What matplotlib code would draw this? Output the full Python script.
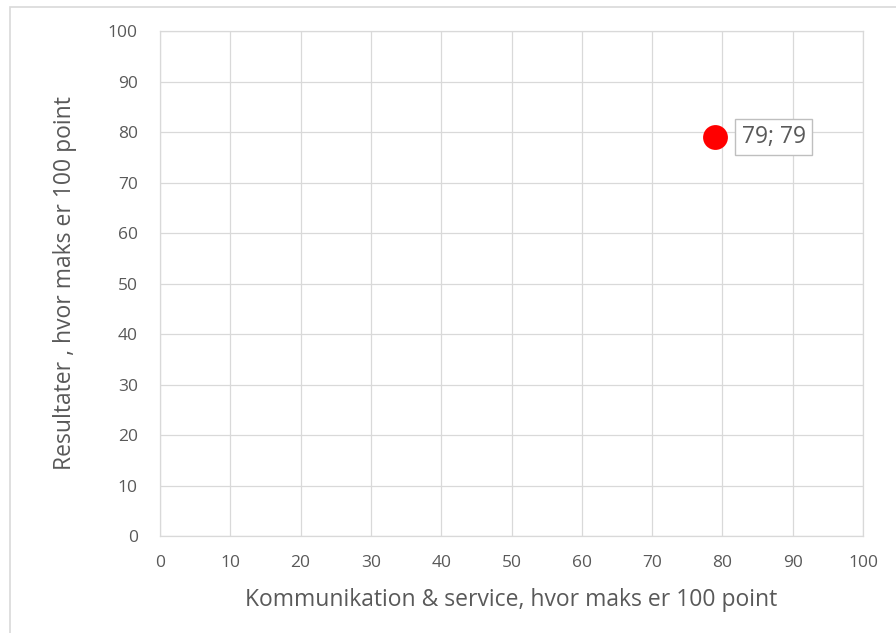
import matplotlib.pyplot as plt
import matplotlib.patches as patches

plt.rcParams["font.family"] = ["Open Sans", "DejaVu Sans"]

# data
x_vals = [79]
y_vals = [79]
point_labels = ["79; 79"]
ticks = list(range(0, 101, 10))

GRID = "#d9d9d9"
TXT = "#595959"

fig = plt.figure(figsize=(8.96, 6.33), dpi=100)
ax = fig.add_axes([160 / 896, 1 - 536 / 633, (863 - 160) / 896, (536 - 31) / 633])

# outer chart border like Excel
fig.patches.append(patches.Rectangle((10 / 896, -0.01), 0.99, 1 - 7 / 633 + 0.01,
                                     transform=fig.transFigure, fill=False,
                                     edgecolor="#d9d9d9", linewidth=1.2))

ax.scatter(x_vals, y_vals, s=320, color="#ff0000", zorder=3, linewidths=0)
for xv, yv, lab in zip(x_vals, y_vals, point_labels):
    ax.annotate(lab, (xv, yv), xytext=(19, 0), textcoords="offset points",
                va="center", ha="left", fontsize=16.5, color="#595959",
                bbox=dict(boxstyle="square,pad=0.28", fc="white", ec="#bfbfbf", lw=1))

ax.set_xlim(0, 100)
ax.set_ylim(0, 100)
ax.set_xticks(ticks)
ax.set_yticks(ticks)
ax.tick_params(axis="x", length=0, labelsize=12.5, colors=TXT, pad=14)
ax.tick_params(axis="y", length=0, labelsize=12.5, colors=TXT, pad=16)
ax.grid(True, color=GRID, linewidth=0.9)
ax.set_axisbelow(True)
for s in ax.spines.values():
    s.set_color(GRID)
    s.set_linewidth(0.9)

ax.set_xlabel("Kommunikation & service, hvor maks er 100 point", fontsize=16.5,
              color=TXT, labelpad=12)
ax.set_ylabel("Resultater , hvor maks er 100 point", fontsize=16.5, color=TXT,
              labelpad=22)

fig.savefig("out.png", dpi=100)
